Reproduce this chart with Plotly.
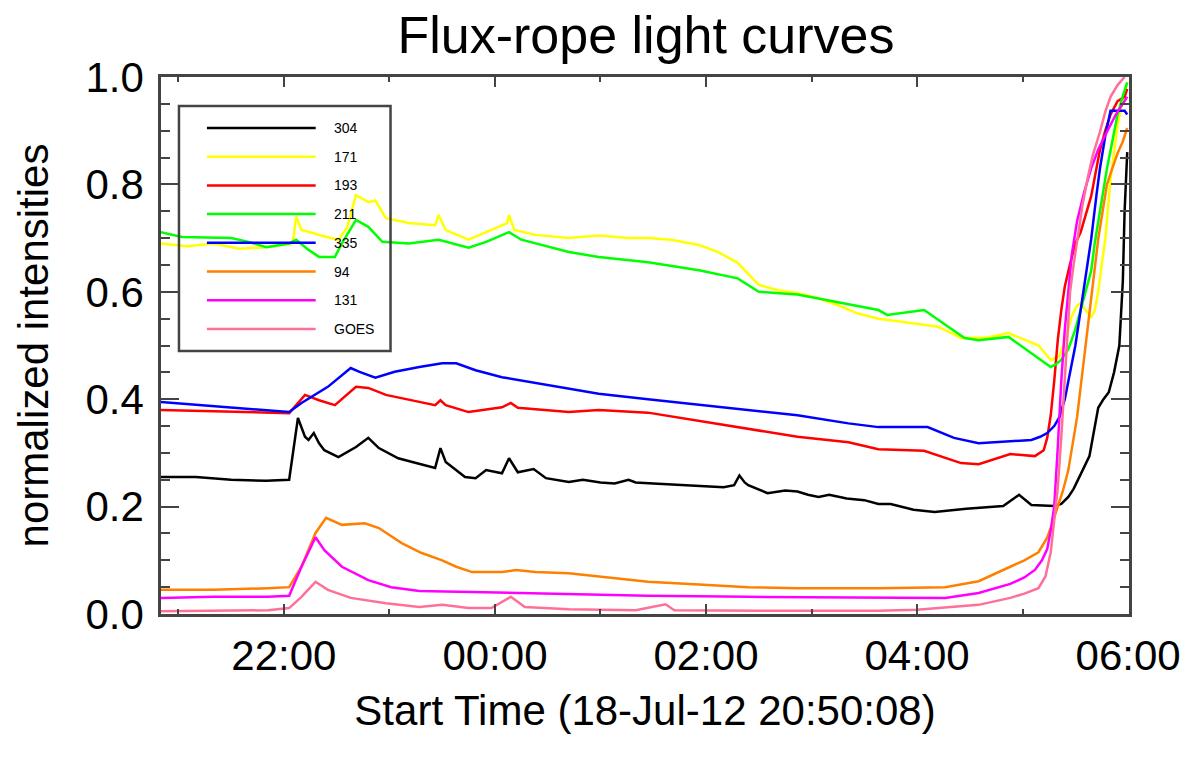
import plotly.graph_objects as go
from datetime import datetime, timedelta

# ---- light-curve samples (clock time, normalized intensity) ----
t_304 = ["20:50", "21:10", "21:30", "21:50", "22:03", "22:05", "22:08", "22:12", "22:14", "22:17",
         "22:20", "22:23", "22:31", "22:41", "22:48", "22:54", "23:05", "23:13", "23:26", "23:29",
         "23:32", "23:43", "23:49", "23:55", "00:04", "00:08", "00:13", "00:22", "00:29", "00:42",
         "00:50", "01:00", "01:08", "01:16", "01:20", "01:30", "01:45", "01:56", "02:10", "02:16",
         "02:19", "02:22", "02:24", "02:35", "02:45", "02:52", "02:58", "03:04", "03:10", "03:20",
         "03:30", "03:38", "03:45", "03:58", "04:10", "04:28", "04:49", "04:58", "05:05", "05:18",
         "05:22", "05:26", "05:29", "05:33", "05:38", "05:40", "05:43", "05:46", "05:49", "05:52",
         "05:55", "05:56", "05:57", "05:58", "05:59:30"]
v_304 = [0.255, 0.255, 0.250, 0.248, 0.250, 0.300, 0.365, 0.330, 0.324, 0.337,
         0.318, 0.305, 0.292, 0.311, 0.328, 0.309, 0.290, 0.283, 0.272, 0.309,
         0.283, 0.255, 0.253, 0.268, 0.262, 0.290, 0.264, 0.270, 0.253, 0.246,
         0.250, 0.245, 0.243, 0.250, 0.245, 0.243, 0.240, 0.238, 0.236, 0.240,
         0.258, 0.245, 0.240, 0.225, 0.230, 0.228, 0.222, 0.218, 0.222, 0.215,
         0.212, 0.205, 0.205, 0.194, 0.190, 0.196, 0.201, 0.222, 0.203, 0.201,
         0.205, 0.218, 0.233, 0.260, 0.294, 0.330, 0.384, 0.400, 0.413, 0.450,
         0.500, 0.560, 0.620, 0.750, 0.860]

t_171 = ["20:50", "21:05", "21:20", "21:35", "21:50", "22:05", "22:07", "22:10", "22:16", "22:21",
         "22:31", "22:36", "22:41", "22:48", "22:52", "22:58", "23:11", "23:26", "23:28", "23:32",
         "23:45", "23:55", "00:07", "00:08", "00:11", "00:23", "00:42", "00:59", "01:16", "01:27",
         "01:40", "01:56", "02:07", "02:18", "02:30", "02:41", "02:52", "03:04", "03:15", "03:26",
         "03:38", "03:49", "04:02", "04:12", "04:25", "04:40", "04:52", "05:09", "05:16", "05:21",
         "05:25", "05:28", "05:31", "05:33", "05:36", "05:39", "05:41", "05:43", "05:45", "05:47",
         "05:50", "05:52", "05:54", "05:57", "05:59:30"]
v_171 = [0.690, 0.685, 0.690, 0.680, 0.683, 0.690, 0.740, 0.715, 0.710, 0.705,
         0.697, 0.720, 0.780, 0.767, 0.770, 0.737, 0.728, 0.724, 0.743, 0.715,
         0.697, 0.711, 0.728, 0.743, 0.715, 0.706, 0.700, 0.705, 0.700, 0.700,
         0.697, 0.687, 0.674, 0.654, 0.613, 0.603, 0.598, 0.588, 0.575, 0.560,
         0.550, 0.545, 0.540, 0.535, 0.514, 0.515, 0.523, 0.500, 0.473, 0.480,
         0.520, 0.555, 0.574, 0.579, 0.565, 0.553, 0.565, 0.600, 0.650, 0.698,
         0.810, 0.860, 0.910, 0.960, 0.990]

t_193 = ["20:50", "21:10", "21:30", "21:51", "22:03", "22:12", "22:20", "22:29", "22:41", "22:48",
         "22:58", "23:17", "23:26", "23:29", "23:32", "23:45", "00:04", "00:09", "00:13", "00:42",
         "00:59", "01:27", "01:56", "02:24", "02:52", "03:21", "03:38", "04:04", "04:25", "04:35",
         "04:53", "05:07", "05:12", "05:14", "05:16", "05:18", "05:20", "05:22", "05:24", "05:27",
         "05:30", "05:33", "05:36", "05:39", "05:42", "05:44", "05:47", "05:50", "05:54", "05:58",
         "05:59:30"]
v_193 = [0.380, 0.378, 0.376, 0.374, 0.374, 0.408, 0.398, 0.389, 0.423, 0.421,
         0.408, 0.395, 0.389, 0.398, 0.389, 0.376, 0.385, 0.393, 0.384, 0.376,
         0.380, 0.375, 0.360, 0.345, 0.330, 0.320, 0.307, 0.304, 0.281, 0.279,
         0.298, 0.294, 0.305, 0.328, 0.370, 0.434, 0.510, 0.566, 0.610, 0.652,
         0.690, 0.711, 0.745, 0.778, 0.830, 0.864, 0.900, 0.930, 0.955, 0.963,
         0.978]

t_211 = ["20:50", "21:02", "21:30", "21:40", "21:50", "22:03", "22:07", "22:14", "22:20", "22:29",
         "22:33", "22:41", "22:48", "22:56", "23:11", "23:28", "23:45", "23:55", "00:08", "00:15",
         "00:42", "00:59", "01:27", "01:56", "02:18", "02:30", "02:52", "03:15", "03:32", "03:38",
         "03:43", "04:04", "04:27", "04:35", "04:52", "05:05", "05:16", "05:19", "05:22", "05:26",
         "05:30", "05:33", "05:36", "05:39", "05:41", "05:43", "05:46", "05:48", "05:51", "05:54",
         "05:57", "05:59:30"]
v_211 = [0.711, 0.702, 0.700, 0.693, 0.683, 0.690, 0.697, 0.678, 0.665, 0.665,
         0.690, 0.734, 0.721, 0.693, 0.690, 0.697, 0.682, 0.693, 0.711, 0.697,
         0.674, 0.665, 0.655, 0.640, 0.625, 0.600, 0.595, 0.580, 0.570, 0.566,
         0.557, 0.566, 0.514, 0.510, 0.516, 0.486, 0.460, 0.465, 0.473, 0.493,
         0.530, 0.566, 0.600, 0.639, 0.690, 0.732, 0.790, 0.830, 0.880, 0.930,
         0.965, 0.990]

t_335 = ["20:50", "21:10", "21:30", "21:51", "22:03", "22:10", "22:25", "22:38", "22:43", "22:52",
         "23:03", "23:17", "23:30", "23:38", "23:49", "00:04", "00:23", "00:38", "00:59", "01:27",
         "01:56", "02:24", "02:52", "03:21", "03:38", "04:06", "04:21", "04:35", "04:53", "05:05",
         "05:10", "05:14", "05:18", "05:21", "05:24", "05:27", "05:30", "05:33", "05:36", "05:39",
         "05:42", "05:44", "05:47", "05:50", "05:58", "05:59:30"]
v_335 = [0.395, 0.390, 0.385, 0.380, 0.376, 0.393, 0.423, 0.458, 0.451, 0.440,
         0.451, 0.460, 0.467, 0.467, 0.454, 0.441, 0.430, 0.421, 0.410, 0.400,
         0.390, 0.380, 0.370, 0.355, 0.348, 0.348, 0.328, 0.318, 0.322, 0.324,
         0.330, 0.337, 0.350, 0.367, 0.400, 0.447, 0.500, 0.566, 0.630, 0.698,
         0.780, 0.830, 0.890, 0.937, 0.937, 0.930]

t_94 = ["20:50", "21:20", "21:51", "22:03", "22:10", "22:18", "22:24", "22:33", "22:46", "22:54",
        "23:07", "23:18", "23:30", "23:38", "23:47", "00:04", "00:12", "00:23", "00:42", "00:59",
        "01:27", "01:56", "02:24", "02:52", "03:38", "04:16", "04:35", "04:53", "05:01", "05:09",
        "05:14", "05:17", "05:20", "05:23", "05:26", "05:28", "05:31", "05:34", "05:37", "05:40",
        "05:43", "05:46", "05:48", "05:51", "05:54", "05:57", "05:59:30"]
v_94 = [0.045, 0.045, 0.048, 0.050, 0.088, 0.151, 0.179, 0.166, 0.169, 0.160,
        0.132, 0.114, 0.100, 0.088, 0.078, 0.078, 0.082, 0.078, 0.076, 0.070,
        0.060, 0.055, 0.050, 0.048, 0.048, 0.050, 0.061, 0.088, 0.100, 0.115,
        0.142, 0.170, 0.201, 0.230, 0.268, 0.310, 0.367, 0.450, 0.533, 0.620,
        0.698, 0.760, 0.800, 0.830, 0.858, 0.880, 0.905]

t_131 = ["20:50", "21:20", "21:51", "22:03", "22:10", "22:18", "22:23", "22:33", "22:48", "23:01",
         "23:17", "23:45", "00:13", "00:42", "01:27", "02:24", "03:38", "04:16", "04:35", "04:53",
         "05:01", "05:07", "05:11", "05:14", "05:16", "05:18", "05:20", "05:22", "05:24", "05:26",
         "05:28", "05:31", "05:35", "05:39", "05:43", "05:48", "05:53", "05:59:30"]
v_131 = [0.030, 0.032, 0.032, 0.034, 0.088, 0.143, 0.119, 0.088, 0.063, 0.050,
         0.043, 0.041, 0.039, 0.037, 0.034, 0.032, 0.030, 0.030, 0.039, 0.056,
         0.068, 0.082, 0.100, 0.121, 0.155, 0.201, 0.310, 0.434, 0.530, 0.600,
         0.670, 0.732, 0.785, 0.830, 0.865, 0.898, 0.930, 0.963]

t_goes = ["20:50", "21:30", "21:51", "22:03", "22:10", "22:18", "22:25", "22:38", "22:58", "23:17",
          "23:30", "23:45", "23:58", "00:09", "00:17", "00:42", "01:20", "01:37", "01:42", "02:30",
          "03:38", "04:00", "04:35", "04:53", "05:01", "05:09", "05:13", "05:16", "05:18", "05:20",
          "05:22", "05:24", "05:26", "05:27", "05:29", "05:31", "05:34", "05:37", "05:40", "05:44",
          "05:47", "05:50", "05:54", "05:58"]
v_goes = [0.005, 0.006, 0.007, 0.011, 0.032, 0.060, 0.045, 0.030, 0.020, 0.013,
          0.017, 0.011, 0.011, 0.032, 0.013, 0.009, 0.007, 0.018, 0.007, 0.006,
          0.006, 0.008, 0.017, 0.030, 0.038, 0.048, 0.070, 0.115, 0.170, 0.235,
          0.330, 0.434, 0.540, 0.600, 0.650, 0.698, 0.760, 0.812, 0.855, 0.898,
          0.935, 0.963, 0.985, 1.000]

channel_names = ["304", "171", "193", "211", "335", "94", "131", "GOES"]
channel_colors = ["#000000", "#ffff00", "#ff0000", "#00ff00", "#0000ff", "#ff8000", "#ff00ff", "#ff7099"]
x_tick_text_format = "%H:%M"
x_title = "Start Time (18-Jul-12 20:50:08)"
y_title = "normalized intensities"
plot_title = "Flux-rope light curves"

series_times = [t_304, t_171, t_193, t_211, t_335, t_94, t_131, t_goes]
series_values = [v_304, v_171, v_193, v_211, v_335, v_94, v_131, v_goes]


def to_datetime(clock):
    """Clock string on the night of 18/19 July 2012 -> datetime."""
    parts = [int(p) for p in clock.split(":")]
    while len(parts) < 3:
        parts.append(0)
    h, m, s = parts
    day = datetime(2012, 7, 18) if h >= 12 else datetime(2012, 7, 19)
    return day + timedelta(hours=h, minutes=m, seconds=s)


FONT = "Liberation Sans, Arial, Helvetica, sans-serif"
FRAME = "#444444"

fig = go.Figure()
for name, color, tt, vv in zip(channel_names, channel_colors, series_times, series_values):
    fig.add_trace(go.Scatter(
        x=[to_datetime(t) for t in tt], y=vv, mode="lines", name=name,
        line=dict(color=color, width=2.5), showlegend=False,
    ))

# plot-area geometry in pixels (used for the hand-drawn legend box)
W, H = 1193, 761
L, R, T, B = 161, 62, 77, 147
pw, ph = W - L - R, H - T - B


def px(x):
    return (x - L) / pw


def py(y):
    return (H - B - y) / ph


shapes = [dict(type="rect", xref="paper", yref="paper",
               x0=px(179), x1=px(391), y0=py(351), y1=py(106),
               line=dict(color=FRAME, width=2.5), fillcolor="rgba(0,0,0,0)", layer="above")]
annotations = []
for i, (name, color) in enumerate(zip(channel_names, channel_colors)):
    yy = py(128 + 28.7 * i)
    shapes.append(dict(type="line", xref="paper", yref="paper", x0=px(207), x1=px(316),
                       y0=yy, y1=yy, line=dict(color=color, width=2.5), layer="above"))
    annotations.append(dict(xref="paper", yref="paper", x=px(332), y=yy, text=name,
                            showarrow=False, xanchor="left", yanchor="middle",
                            font=dict(family=FONT, size=14, color="black")))

fig.update_layout(
    width=W, height=H,
    margin=dict(l=L, r=R, t=T, b=B),
    paper_bgcolor="white", plot_bgcolor="white",
    title=dict(text=plot_title, x=(L + pw / 2) / W, xanchor="center",
               y=1 - 35 / H, yanchor="middle", yref="container",
               font=dict(family=FONT, size=52, color="black")),
    shapes=shapes, annotations=annotations,
    xaxis=dict(
        type="date",
        range=[to_datetime("20:50:08"), to_datetime("06:00:30")],
        tick0=to_datetime("22:00"), dtick=2 * 3600 * 1000, tickformat=x_tick_text_format,
        ticks="inside", ticklen=10, tickwidth=2, tickcolor=FRAME,
        minor=dict(dtick=3600 * 1000, ticks="inside", ticklen=5, tickwidth=2, tickcolor=FRAME),
        showline=True, linecolor=FRAME, linewidth=2.5, mirror="allticks",
        showgrid=False, zeroline=False,
        tickfont=dict(family=FONT, size=42, color="black"), ticklabelstandoff=3,
        title=dict(text=x_title, font=dict(family=FONT, size=42, color="black"), standoff=18),
    ),
    yaxis=dict(
        range=[0, 1], tick0=0, dtick=0.2, tickformat=".1f",
        ticks="inside", ticklen=18, tickwidth=2, tickcolor=FRAME,
        minor=dict(dtick=0.05, ticks="inside", ticklen=9, tickwidth=2, tickcolor=FRAME),
        showline=True, linecolor=FRAME, linewidth=2.5, mirror="allticks",
        showgrid=False, zeroline=False,
        tickfont=dict(family=FONT, size=42, color="black"), ticklabelstandoff=6,
        title=dict(text=y_title, font=dict(family=FONT, size=42, color="black"), standoff=24),
    ),
)

fig.write_html("out.html")
